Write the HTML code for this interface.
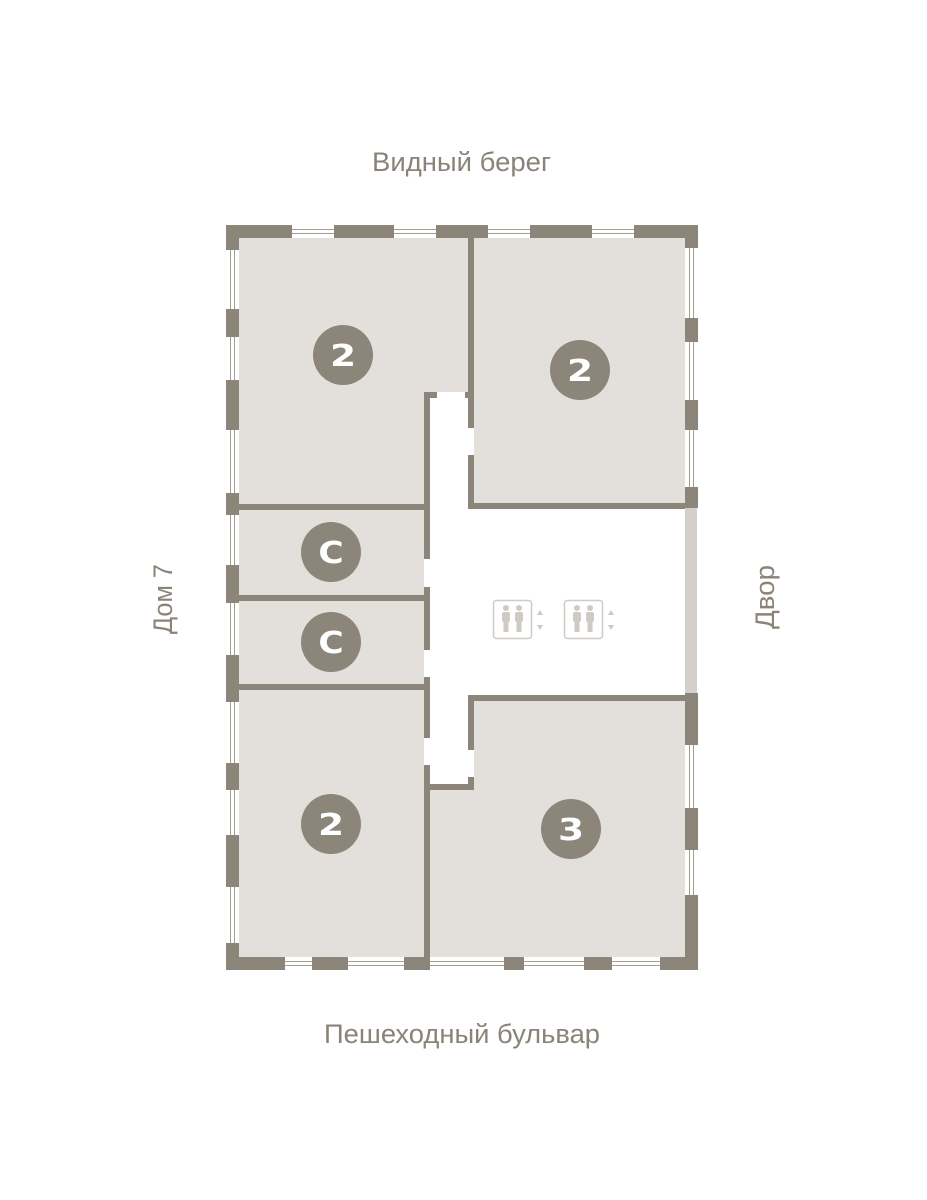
<!DOCTYPE html>
<html><head><meta charset="utf-8"><style>html,body{margin:0;padding:0;background:#fff}svg{display:block}</style></head>
<body>
<svg width="927" height="1200" viewBox="0 0 927 1200" xmlns="http://www.w3.org/2000/svg">
<g font-family="Liberation Sans, sans-serif" fill="#8a8378" font-size="27">
<text x="372" y="171" textLength="179" lengthAdjust="spacingAndGlyphs">Видный берег</text>
<text x="324" y="1043" textLength="276" lengthAdjust="spacingAndGlyphs">Пешеходный бульвар</text>
<text transform="translate(172,634) rotate(-90)" x="0" y="0" textLength="70" lengthAdjust="spacingAndGlyphs">Дом 7</text>
<text transform="translate(774,629) rotate(-90)" x="0" y="0" textLength="64" lengthAdjust="spacingAndGlyphs">Двор</text>
</g>
<g fill="#e3e0dc">
<polygon points="239,238 468,238 468,392 430,392 430,504 239,504"/>
<rect x="474" y="238" width="211" height="265"/>
<rect x="239" y="510" width="185" height="85"/>
<rect x="239" y="601" width="185" height="83"/>
<rect x="239" y="690" width="185" height="267"/>
<polygon points="474,701 685,701 685,957 430,957 430,790 474,790"/>
</g>
<g fill="#8c857a">
<rect x="226" y="225" width="472" height="13"/>
<rect x="226" y="957" width="472" height="13"/>
<rect x="226" y="225" width="13" height="745"/>
<rect x="685" y="225" width="13" height="283"/>
<rect x="685" y="693" width="13" height="277"/>
<rect x="468" y="238" width="6" height="154"/>
<rect x="465" y="392" width="9" height="6"/>
<rect x="468" y="398" width="6" height="30"/>
<rect x="468" y="455" width="6" height="54"/>
<rect x="468" y="503" width="217" height="6"/>
<rect x="424" y="392" width="13" height="6"/>
<rect x="424" y="392" width="6" height="167"/>
<rect x="239" y="504" width="191" height="6"/>
<rect x="424" y="587" width="6" height="63"/>
<rect x="424" y="677" width="6" height="61"/>
<rect x="424" y="765" width="6" height="205"/>
<rect x="239" y="595" width="191" height="6"/>
<rect x="239" y="684" width="191" height="6"/>
<rect x="468" y="695" width="217" height="6"/>
<rect x="468" y="695" width="6" height="55"/>
<rect x="468" y="777" width="6" height="13"/>
<rect x="424" y="784" width="50" height="6"/>
</g>
<rect x="685" y="508" width="12" height="185" fill="#d3cfca"/>
<g fill="#fff" stroke="#a39d94" stroke-width="1">
<g><rect x="292" y="225" width="42" height="13" stroke="none"/><path d="M292 229.5H334M292 233.5H334"/></g>
<g><rect x="394" y="225" width="42" height="13" stroke="none"/><path d="M394 229.5H436M394 233.5H436"/></g>
<g><rect x="488" y="225" width="42" height="13" stroke="none"/><path d="M488 229.5H530M488 233.5H530"/></g>
<g><rect x="592" y="225" width="42" height="13" stroke="none"/><path d="M592 229.5H634M592 233.5H634"/></g>
<g><rect x="285" y="957" width="27" height="13" stroke="none"/><path d="M285 961.5H312M285 965.5H312"/></g>
<g><rect x="348" y="957" width="56" height="13" stroke="none"/><path d="M348 961.5H404M348 965.5H404"/></g>
<g><rect x="430" y="957" width="74" height="13" stroke="none"/><path d="M430 961.5H504M430 965.5H504"/></g>
<g><rect x="524" y="957" width="60" height="13" stroke="none"/><path d="M524 961.5H584M524 965.5H584"/></g>
<g><rect x="612" y="957" width="48" height="13" stroke="none"/><path d="M612 961.5H660M612 965.5H660"/></g>
<g><rect x="226" y="250" width="13" height="59" stroke="none"/><path d="M230.5 250V309M234.5 250V309"/></g>
<g><rect x="226" y="337" width="13" height="43" stroke="none"/><path d="M230.5 337V380M234.5 337V380"/></g>
<g><rect x="226" y="430" width="13" height="63" stroke="none"/><path d="M230.5 430V493M234.5 430V493"/></g>
<g><rect x="226" y="515" width="13" height="50" stroke="none"/><path d="M230.5 515V565M234.5 515V565"/></g>
<g><rect x="226" y="603" width="13" height="52" stroke="none"/><path d="M230.5 603V655M234.5 603V655"/></g>
<g><rect x="226" y="702" width="13" height="61" stroke="none"/><path d="M230.5 702V763M234.5 702V763"/></g>
<g><rect x="226" y="790" width="13" height="45" stroke="none"/><path d="M230.5 790V835M234.5 790V835"/></g>
<g><rect x="226" y="887" width="13" height="56" stroke="none"/><path d="M230.5 887V943M234.5 887V943"/></g>
<g><rect x="685" y="248" width="13" height="70" stroke="none"/><path d="M689.5 248V318M693.5 248V318"/></g>
<g><rect x="685" y="342" width="13" height="58" stroke="none"/><path d="M689.5 342V400M693.5 342V400"/></g>
<g><rect x="685" y="430" width="13" height="57" stroke="none"/><path d="M689.5 430V487M693.5 430V487"/></g>
<g><rect x="685" y="745" width="13" height="63" stroke="none"/><path d="M689.5 745V808M693.5 745V808"/></g>
<g><rect x="685" y="850" width="13" height="45" stroke="none"/><path d="M689.5 850V895M693.5 850V895"/></g>
</g>
<g fill="#8c857a">
<circle cx="343" cy="355" r="30"/><circle cx="580" cy="370" r="30"/>
<circle cx="331" cy="552" r="30"/><circle cx="331" cy="642" r="30"/>
<circle cx="331" cy="824" r="30"/><circle cx="571" cy="829" r="30"/>
</g>
<g fill="#fff" font-family="DejaVu Sans, Liberation Sans, sans-serif" font-weight="bold" font-size="30" text-anchor="middle">
<text x="343" y="366" transform="translate(343 0) scale(1.25 1) translate(-343 0)">2</text>
<text x="580" y="381" transform="translate(580 0) scale(1.25 1) translate(-580 0)">2</text>
<text x="331" y="835" transform="translate(331 0) scale(1.25 1) translate(-331 0)">2</text>
<text x="571" y="840" transform="translate(571 0) scale(1.25 1) translate(-571 0)">3</text>
<text x="331" y="563" transform="translate(331 0) scale(1.15 1) translate(-331 0)">С</text>
<text x="331" y="653" transform="translate(331 0) scale(1.15 1) translate(-331 0)">С</text>
</g>
<g fill="none" stroke="#cfcac4" stroke-width="1.5">
<rect x="493.5" y="600.5" width="38" height="38" rx="3"/>
<rect x="564.5" y="600.5" width="38" height="38" rx="3"/>
</g>
<g fill="#cfcac4">
<g id="p">
<circle cx="506" cy="608" r="3"/><rect x="502" y="612" width="8" height="10" rx="2"/><rect x="503.5" y="620" width="5" height="12"/>
<circle cx="519" cy="608" r="3"/><rect x="515" y="612" width="8" height="10" rx="2"/><rect x="516.5" y="620" width="5" height="12"/>
<polygon points="540,610 537,615 543,615"/><polygon points="540,630 537,625 543,625"/>
</g>
<use href="#p" transform="translate(71 0)"/>
</g>
</svg>
</body></html>
